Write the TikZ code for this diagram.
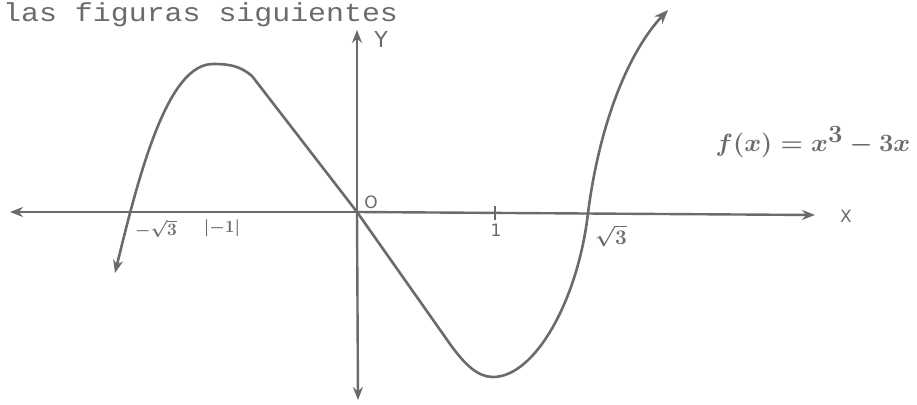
\documentclass[tikz,border=0pt]{standalone}
\usepackage{fontspec}
\setmonofont{Liberation Mono}
\newfontfamily\hand{DejaVu Sans}
\usetikzlibrary{arrows.meta}
\definecolor{ink}{gray}{0.42}
\begin{document}
\begin{tikzpicture}[x=1pt,y=-1pt,
  axisline/.style={draw=ink,line width=2.4pt,-{Stealth[length=13pt,width=10pt]}},
  curveline/.style={draw=ink,line width=2.6pt,line cap=round},
  lbl/.style={text=ink,inner sep=0pt,font=\hand\fontsize{17}{17}\selectfont}]
\useasboundingbox (0,0) rectangle (917,404);
\clip (0,0) rectangle (917,404);
\fill[white] (0,0) rectangle (917,404);
% heading
\node[anchor=base west,inner sep=0pt,text=ink,xscale=1.15,font=\ttfamily\fontsize{26}{26}\selectfont] (head) at (3,22) {las figuras siguientes};
% axes
\coordinate (o) at (357,212);
\coordinate (xl) at (10,212);
\coordinate (xr) at (815,215);
\coordinate (yt) at (357,30);
\coordinate (yb) at (358,400);
\draw[axisline] (o) -- (xl);
\draw[axisline] (o) -- (xr);
\draw[axisline] (o) -- (yt);
\draw[axisline] (o) -- (yb);
% curve points
\coordinate (c0) at (115,273);
\coordinate (cmax) at (213,64);
\coordinate (c2) at (252,76);
\coordinate (c3) at (450,344);
\coordinate (cmin) at (493,377);
\coordinate (r3) at (588,213);
\coordinate (cend) at (668,10);
\draw[curveline,{Stealth[length=13pt,width=10pt]}-]
  (c0) .. controls (140,170) and (168,64) .. (cmax)
  .. controls (230,64) and (240,66) .. (c2)
  -- (o) -- (c3)
  .. controls (465,365) and (478,377) .. (cmin)
  .. controls (535,377) and (578,300) .. (r3);
\draw[curveline,-{Stealth[length=14pt,width=11pt]}]
  (r3) .. controls (600,120) and (630,50) .. (cend);
% tick at 1
\coordinate (t1) at (495,212);
\draw[ink,line width=1.8pt] (495,206) -- (495,220);
% labels
\node[lbl] (lx) at (846,216) {X};
\node[lbl,font=\hand\fontsize{22}{22}\selectfont] (ly) at (381,39) {Y};
\node[lbl] (lo) at (371,202) {O};
\node[lbl,font=\fontsize{19}{19}\selectfont\boldmath] (lm3) at (156,229) {$-\sqrt{3}$};
\node[lbl,font=\fontsize{19}{19}\selectfont\boldmath] (lm1) at (222,228) {$|{-1}|$};
\node[lbl] (l1) at (496,230) {1};
\node[lbl,font=\fontsize{20}{20}\selectfont\boldmath] (l3) at (611,236) {$\sqrt{3}$};
\node[lbl,xscale=1.03,font=\fontsize{36}{36}\selectfont\boldmath] (fx) at (813,142) {$f(x)=x^3-3x$};
\end{tikzpicture}
\end{document}
